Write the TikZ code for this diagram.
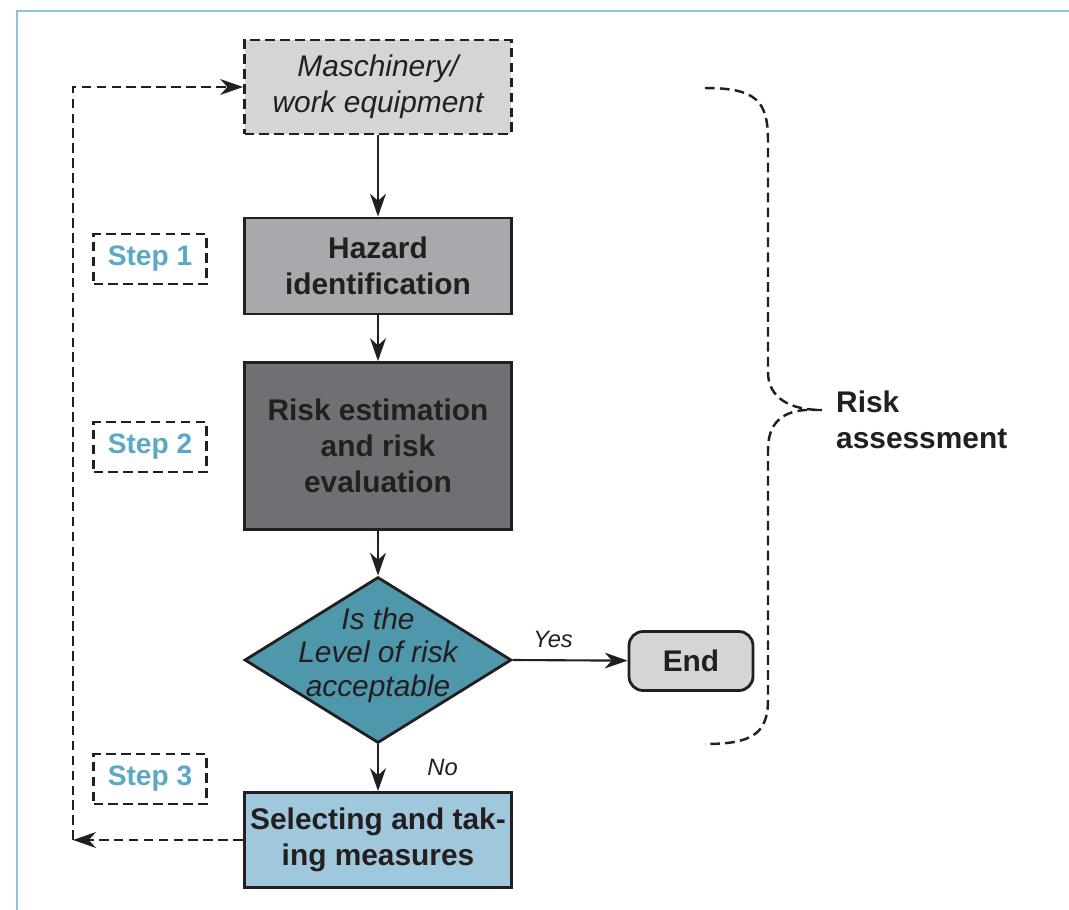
\documentclass[tikz,border=0pt]{standalone}
\usepackage{fontspec}
\setmainfont{Liberation Sans}
\usepackage{tikz}
\definecolor{framecol}{RGB}{143, 195, 211}
\definecolor{stepcol}{RGB}{90, 168, 195}
\definecolor{boxlight}{RGB}{212, 213, 215}
\definecolor{boxmid}{RGB}{168, 169, 173}
\definecolor{boxdark}{RGB}{112, 112, 116}
\definecolor{tealdec}{RGB}{79, 151, 170}
\definecolor{bluemeas}{RGB}{160, 200, 220}
\definecolor{inkcol}{RGB}{35, 31, 32}
\usetikzlibrary{shapes.geometric, arrows.meta, positioning}

\begin{document}
\begin{tikzpicture}[
    x=0.02cm, y=-0.02cm,
    box/.style={draw=inkcol, line width=1.6pt, fill=boxlight, minimum width=5.34cm,
                align=center, text=inkcol, font=\fontsize{17}{20.5}\selectfont\bfseries},
    dashbox/.style={dash pattern=on 5.5pt off 3pt},
    stepbox/.style={draw=inkcol, line width=1.4pt, dashbox, minimum width=2.26cm,
                    minimum height=1cm, text=stepcol, font=\fontsize{16}{19}\selectfont\bfseries},
    flow/.style={-{Stealth[length=13pt, width=9pt, inset=4pt]}, line width=1.2pt, inkcol},
    loopback/.style={flow, dashbox},
    lbl/.style={text=inkcol, font=\fontsize{13.5}{16}\selectfont\itshape}
]
    \useasboundingbox (0,0) rectangle (1069,910);

    % Page frame
    \draw[framecol, line width=1.2pt] (17,910) -- (17,11) -- (1069,11);

    % Main column
    \node[box, dashbox, minimum height=1.88cm, font=\fontsize{17}{20.5}\selectfont\itshape] (mach) at (378,87) {Maschinery/\\work equipment};
    \node[box, fill=boxmid, minimum height=1.92cm] (haz) at (378,266) {Hazard\\identification};
    \node[box, fill=boxdark, minimum height=3.34cm] (est) at (378,446) {Risk estimation\\and risk\\evaluation};
    \node[diamond, draw=inkcol, line width=1.6pt, fill=tealdec, minimum width=5.34cm, minimum height=3.32cm, inner sep=0pt] (dec) at (378,660) {};
    \node[align=center, text=inkcol, font=\fontsize{17}{19}\selectfont\itshape] (dectext) at (378,655) {Is the\\Level of risk\\acceptable};
    \node[box, rounded corners=8pt, minimum width=2.48cm, minimum height=1.18cm] (end) at (691,661) {End};
    \node[box, fill=bluemeas, minimum height=1.9cm] (sel) at (378,840) {Selecting and tak-\\ing measures};

    % Steps
    \node[stepbox] (step1) at (150,259) {Step 1};
    \node[stepbox] (step2) at (150,447) {Step 2};
    \node[stepbox] (step3) at (150,779) {Step 3};

    % Arrows
    \draw[flow] (mach) -- (haz);
    \draw[flow] (haz) -- (est);
    \draw[flow] (est) -- (dec);
    \draw[flow] (dec.east) -- (end) node[lbl, pos=0.35, above=3pt] {Yes};
    \draw[flow] (dec.south) -- (sel) node[lbl, midway, right=0.85cm] {No};

    % Feedback loop
    \coordinate (cbot) at (73,840);
    \draw[loopback] (sel.west) -- (cbot);
    \draw[loopback] (cbot) |- (mach.west);

    % Brace
    \draw[inkcol, line width=1.4pt, dashbox]
        (705,88) .. controls (755,88) and (768,100) .. (768,140) -- (768,372)
        .. controls (768,398) and (790,410) .. (822,410)
        (822,410) -- (805,410) .. controls (780,412) and (768,425) .. (768,450) -- (768,700)
        .. controls (768,735) and (750,744) .. (705,744);
    \node[anchor=west, align=left, text=inkcol, font=\fontsize{17}{20.5}\selectfont\bfseries] (riskass) at (830,420) {Risk\\assessment};
\end{tikzpicture}
\end{document}
